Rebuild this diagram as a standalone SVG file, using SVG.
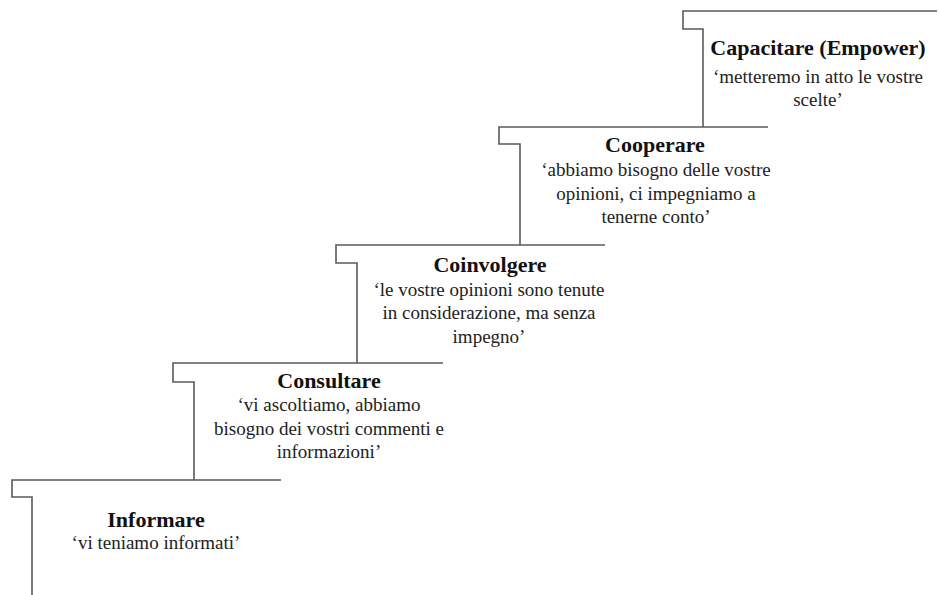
<svg xmlns="http://www.w3.org/2000/svg" width="939" height="595" viewBox="0 0 939 595">
<style>
  .step { fill: none; stroke: #5a5a5a; stroke-width: 1.6; }
  .t { font-family: "Liberation Serif", "Times New Roman", serif; font-size: 22px; font-weight: bold; fill: #111; text-anchor: middle; }
  .s { font-family: "Liberation Serif", "Times New Roman", serif; font-size: 19px; fill: #222; text-anchor: middle; }
</style>
<rect width="939" height="595" fill="#fff"/>
<g id="informare">
  <path class="step" d="M281,480 H12 V497 H32 V595"/>
  <text class="t" x="156" y="527">Informare</text>
  <text class="s" x="156" y="549">‘vi teniamo informati’</text>
</g>
<g id="consultare">
  <path class="step" d="M443,363 H173 V382 H194 V480"/>
  <text class="t" x="329" y="388">Consultare</text>
  <text class="s" x="329" y="411">‘vi ascoltiamo, abbiamo</text>
  <text class="s" x="329" y="435">bisogno dei vostri commenti e</text>
  <text class="s" x="329" y="458">informazioni’</text>
</g>
<g id="coinvolgere">
  <path class="step" d="M605,245 H336 V263 H357 V363"/>
  <text class="t" x="490" y="272">Coinvolgere</text>
  <text class="s" x="489" y="296">‘le vostre opinioni sono tenute</text>
  <text class="s" x="489" y="319">in considerazione, ma senza</text>
  <text class="s" x="489" y="343">impegno’</text>
</g>
<g id="cooperare">
  <path class="step" d="M768,127 H499 V144 H520 V245"/>
  <text class="t" x="655" y="152">Cooperare</text>
  <text class="s" x="656" y="176">‘abbiamo bisogno delle vostre</text>
  <text class="s" x="656" y="200">opinioni, ci impegniamo a</text>
  <text class="s" x="656" y="223">tenerne conto’</text>
</g>
<g id="capacitare">
  <path class="step" d="M937,11 H683 V29 H703 V127"/>
  <text class="t" x="818" y="55">Capacitare (Empower)</text>
  <text class="s" x="818" y="83">‘metteremo in atto le vostre</text>
  <text class="s" x="818" y="106">scelte’</text>
</g>
<g id="connectors"></g>
</svg>
